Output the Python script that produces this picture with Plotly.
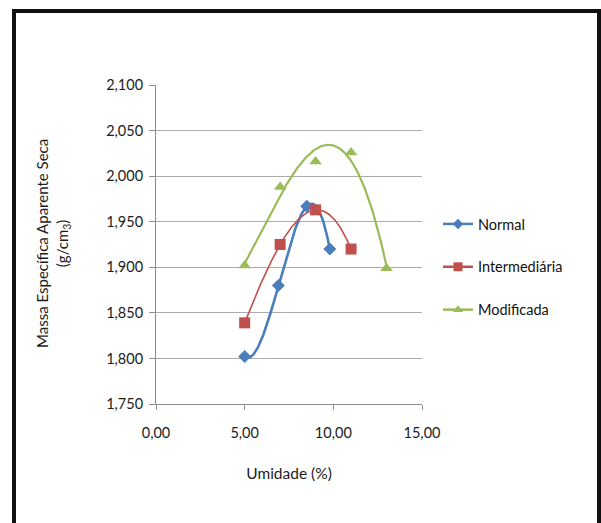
import numpy as np
import plotly.graph_objects as go

# Moisture content (%) and dry apparent specific mass (g/cm3) per compaction energy
umidade_normal = [5.0, 6.9, 8.5, 9.8]
massa_normal = [1.802, 1.880, 1.967, 1.920]

umidade_inter = [5.0, 7.0, 9.0, 11.0]
massa_inter = [1.839, 1.925, 1.963, 1.920]

umidade_mod = [5.0, 7.0, 9.0, 11.0, 13.0]
massa_mod = [1.902, 1.988, 2.016, 2.026, 1.899]

series_names = ["Normal", "Intermediária", "Modificada"]
x_ticks = [0, 5, 10, 15]
y_ticks = [1.75, 1.80, 1.85, 1.90, 1.95, 2.00, 2.05, 2.10]

W, H = 601, 523
ML, MR, MT, MB = 156, 179, 85, 119
PW, PH = W - ML - MR, H - MT - MB

FONT = "Lato"
TXT = "#1c1c1c"

series = [
    (series_names[0], umidade_normal, massa_normal, "#4A7EBB", "diamond", 10, 2.6),
    (series_names[1], umidade_inter, massa_inter, "#C0504D", "square", 11, 1.6),
    (series_names[2], umidade_mod, massa_mod, "#9BBB59", "triangle-up", 11, 2.2),
]

fig = go.Figure()

# Third-order polynomial trendline for each series, drawn over its data span
for name, xs, ys, color, sym, msize, lw in series:
    coef = np.polyfit(xs, ys, 3)
    xt = np.linspace(min(xs), max(xs), 200)
    fig.add_trace(go.Scatter(
        x=xt, y=np.polyval(coef, xt), mode="lines",
        line=dict(color=color, width=lw), showlegend=False, hoverinfo="skip",
    ))

for name, xs, ys, color, sym, msize, lw in series:
    fig.add_trace(go.Scatter(
        x=xs, y=ys, mode="markers", name=name,
        marker=dict(symbol=sym, size=msize, color=color),
        showlegend=False,
    ))

# Legend entries (line with marker)
for i, (name, xs, ys, color, sym, msize, lw) in enumerate(series):
    fig.add_trace(go.Scatter(
        x=[None], y=[None], mode="lines+markers", name=name,
        legendgroup=f"g{i}",
        line=dict(color=color, width=2.5),
        marker=dict(symbol=sym, size=msize - 2, color=color),
    ))

def px_x(p):
    return (p - ML) / PW

def px_y(p):
    return (H - MB - p) / PH

fig.update_layout(
    width=W, height=H,
    margin=dict(l=ML, r=MR, t=MT, b=MB),
    paper_bgcolor="white", plot_bgcolor="white",
    separators=",.",
    font=dict(family=FONT, size=14, color=TXT),
    showlegend=True,
    legend=dict(
        x=px_x(438), y=px_y(208), xanchor="left", yanchor="top",
        font=dict(family=FONT, size=14.5, color="#111111"),
        tracegroupgap=21, itemwidth=30,
        bgcolor="rgba(0,0,0,0)",
    ),
    xaxis=dict(
        range=[0, 15], tickvals=x_ticks, tickformat=".2f",
        showgrid=False, zeroline=False,
        showline=True, linecolor="#8C8C8C", linewidth=1,
        ticks="outside", ticklen=5, tickcolor="#8C8C8C",
        tickfont=dict(family=FONT, size=14.5, color=TXT),
        ticklabelstandoff=11,
        title=dict(text="Umidade (%)", font=dict(family=FONT, size=15.5, color=TXT), standoff=27),
    ),
    yaxis=dict(
        range=[1.75, 2.10], tickvals=y_ticks, tickformat=".3f",
        showgrid=True, gridcolor="#ACACAC", gridwidth=1, zeroline=False,
        showline=True, linecolor="#8C8C8C", linewidth=1,
        ticks="outside", ticklen=6, tickcolor="#8C8C8C",
        tickfont=dict(family=FONT, size=14.5, color=TXT),
        ticklabelstandoff=3,
    ),
    annotations=[
        dict(
            text="Massa Específica Aparente Seca<br>(g/cm<sub>3</sub>)",
            xref="paper", yref="paper", x=px_x(53), y=px_y(244),
            xanchor="center", yanchor="middle", textangle=-90, showarrow=False,
            font=dict(family=FONT, size=15, color=TXT),
        )
    ],
    shapes=[
        dict(
            type="rect", xref="paper", yref="paper",
            x0=px_x(14), x1=px_x(599), y0=px_y(540), y1=px_y(11),
            line=dict(color="#111111", width=4), fillcolor="rgba(0,0,0,0)",
            layer="above",
        )
    ],
)

fig.write_html("out.html")
